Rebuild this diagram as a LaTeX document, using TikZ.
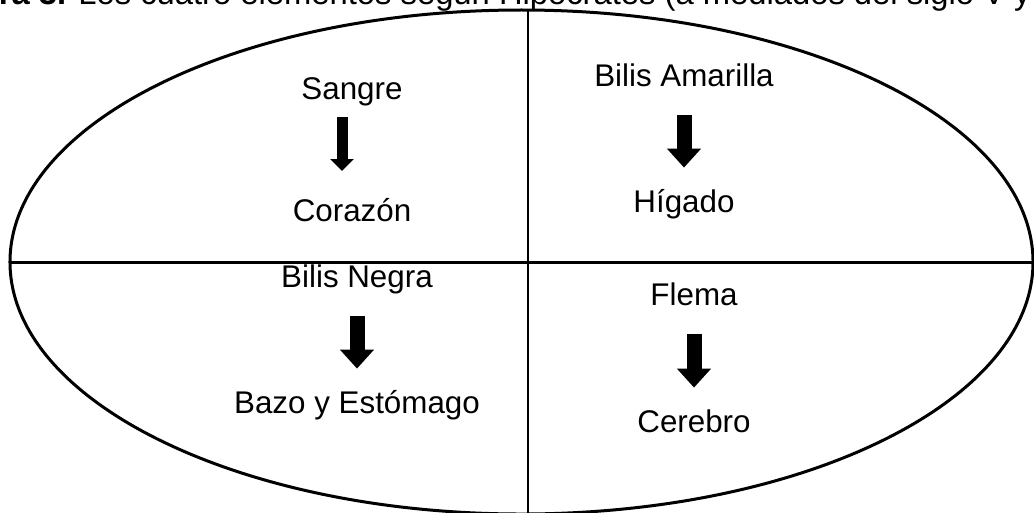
\documentclass[tikz,border=0pt]{standalone}
\usepackage{fontspec}
\setmainfont{Liberation Sans}
\usetikzlibrary{arrows.meta}

\begin{document}
\begin{tikzpicture}[
            x = 0.25mm, y = -0.25mm, % one unit is one pixel of the page
            line cap = butt,
            font = \fontsize{22.3}{26}\selectfont % text size of the humours
        ]

        \tikzstyle{humor}=[
            inner sep = 0pt,
            anchor = base,
            text height = 0.72em,
            text depth = 0.21em
        ]

        \tikzstyle{flecha}=[
            line width = 3.75mm,
            -{Triangle[width = 8.25mm, length = 4.75mm]},
            shorten < = 6.35mm,
            shorten > = 8.5mm
        ]

        \tikzstyle{flechita}=[
            flecha,
            line width = 2.75mm,
            -{Triangle[width = 5.75mm, length = 3mm]},
            shorten < = 3.6mm,
            shorten > = 9.9mm
        ]

	\path[use as bounding box] (0,0) rectangle (1034,512);

	% caption, cut off by the page
	\node[anchor = base east, inner sep = 0pt, font = \fontsize{23.3}{28}\selectfont] (pie) at (1031,4) {\textbf{ra 3.} Los cuatro elementos según Hipócrates (a mediados del siglo V y};

	% the oval and its four quarters
	\coordinate (centro) at (521.5,262);
	\coordinate (izq) at (10,262);
	\coordinate (der) at (1033,262);
	\coordinate (arriba) at (528,10);
	\coordinate (abajo) at (528,514);
	\draw[line width = 0.75mm] (centro) ellipse [x radius = 127.875mm, y radius = 63mm];
	\draw[line width = 0.75mm] (izq) -- (der);
	\draw[line width = 0.5mm] (arriba) -- (abajo);

	\node[humor] (sangre) at (352,99) {Sangre};
	\node[humor] (corazon) at (352,221) {Corazón};
	\node[humor] (amarilla) at (684,86) {Bilis Amarilla};
	\node[humor] (higado) at (684,212) {Hígado};
	\node[humor] (negra) at (357,287) {Bilis Negra};
	\node[humor] (bazo) at (357,413) {Bazo y Estómago};
	\node[humor] (flema) at (694,305) {Flema};
	\node[humor] (cerebro) at (694,432) {Cerebro};

	\draw[flechita] ([xshift = -2.5mm]sangre.south) -- ([xshift = -2.5mm]corazon.north);
	\draw[flecha] (amarilla) -- (higado);
	\draw[flecha] (negra) -- (bazo);
	\draw[flecha] (flema) -- (cerebro);

    \end{tikzpicture}
\end{document}
